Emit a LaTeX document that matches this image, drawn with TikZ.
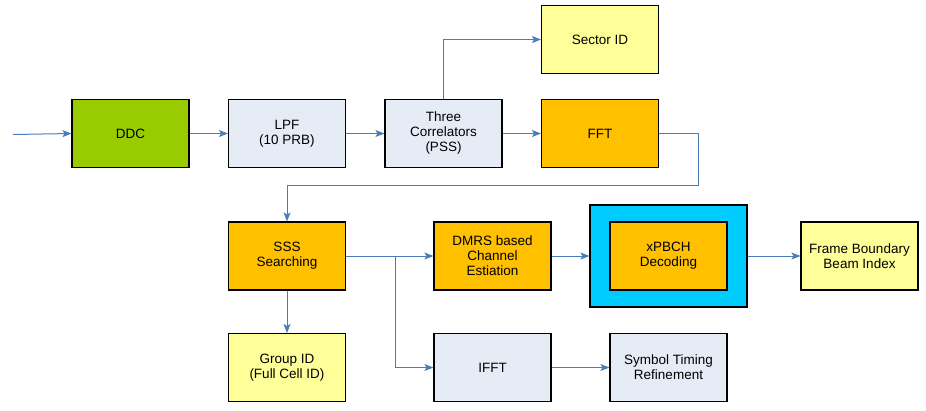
\documentclass[tikz,border=0pt]{standalone}
\usepackage{fontspec}
\setmainfont{Liberation Sans}
\usetikzlibrary{arrows.meta}
\definecolor{cgreen}{HTML}{99CC00}
\definecolor{cpale}{HTML}{E6ECF6}
\definecolor{cyel}{HTML}{FFFF99}
\definecolor{corange}{HTML}{FFC000}
\definecolor{ccyan}{HTML}{00CCFF}
\definecolor{carrow}{HTML}{4A7EBB}
\begin{document}
\begin{tikzpicture}[x=1pt,y=-1pt,
  blk/.style={draw=black,line width=1.1pt,minimum width=117pt,minimum height=68pt,align=center,inner sep=0pt,font=\fontsize{13.5}{15}\selectfont},
  arr/.style={draw=carrow,line width=1pt,-{Stealth[length=9pt,width=7pt,inset=2pt]}},
  ln/.style={draw=carrow,line width=1pt}]
\useasboundingbox (0,0) rectangle (926,410);
\node[blk,fill=cgreen] (ddc) at (130.5,133.5) {DDC};
\node[blk,fill=cpale] (lpf) at (287,133.5) {LPF\\(10 PRB)};
\node[blk,fill=cpale] (cor) at (443.5,133.5) {Three\\Correlators\\(PSS)};
\node[blk,fill=cyel] (sec) at (600,39.5) {Sector ID};
\node[blk,fill=corange] (fft) at (600,133.5) {FFT};
\node[blk,fill=corange] (sss) at (287,256) {SSS\\Searching};
\node[blk,fill=corange] (dmrs) at (492.5,256) {DMRS based\\Channel\\Estiation};
\node[blk,fill=ccyan,minimum width=157pt,minimum height=102pt] (outer) at (668.5,256) {};
\node[blk,fill=corange] (pbch) at (668.5,256) {xPBCH\\Decoding};
\node[blk,fill=cyel] (frame) at (859.5,256) {Frame Boundary\\Beam Index};
\node[blk,fill=cyel] (grp) at (287,367.5) {Group ID\\(Full Cell ID)};
\node[blk,fill=cpale] (ifft) at (492.5,367.5) {IFFT};
\node[blk,fill=cpale] (sym) at (668.5,367.5) {Symbol Timing\\Refinement};
\coordinate (in) at (13,134.5);
\draw[arr] (in) -- (ddc.west);
\draw[arr] (ddc) -- (lpf);
\draw[arr] (lpf) -- (cor);
\draw[arr] (cor) -- (fft);
\draw[arr] (cor.north) |- (sec.west);
\draw[arr] (fft.east) -- ++(39,0) |- (287,185) -- (sss.north);
\draw[arr] (sss) -- (dmrs);
\draw[arr] (sss.east) ++(49,0) |- (ifft.west);
\draw[arr] (dmrs) -- (outer);
\draw[arr] (outer) -- (frame);
\draw[arr] (ifft) -- (sym);
\draw[arr] (sss) -- (grp);
\end{tikzpicture}
\end{document}
